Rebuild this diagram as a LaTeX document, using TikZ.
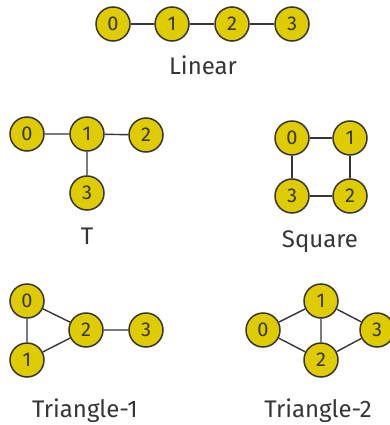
\documentclass[tikz,border=0pt]{standalone}
\usepackage{fontspec}
\setmainfont{Fira Sans}
\definecolor{nodefill}{HTML}{DFCC00}
\definecolor{ink}{HTML}{353535}
\begin{document}
\begin{tikzpicture}[x=1pt,y=-1pt,
  vert/.style={circle,draw=ink,fill=nodefill,line width=1.5pt,minimum size=34pt,inner sep=0pt,font=\fontsize{20}{20}\selectfont,text=ink},
  edge/.style={draw=ink,line width=1.4pt},
  lbl/.style={font=\fontsize{24}{24}\selectfont,text=ink}]
\useasboundingbox (0,0) rectangle (389,425);
% Linear
\node[vert] (l0) at (113,24) {0};
\node[vert] (l1) at (172,24) {1};
\node[vert] (l2) at (232,24) {2};
\node[vert] (l3) at (292,24) {3};
\draw[edge] (l0) -- (l1) (l1) -- (l2) (l2) -- (l3);
\node[lbl] (llbl) at (203,65) {Linear};
% T
\node[vert] (t0) at (27,134) {0};
\node[vert] (t1) at (87,134) {1};
\node[vert] (t2) at (146,135) {2};
\node[vert] (t3) at (87,193) {3};
\draw[edge] (t0) -- (t1) (t1) -- (t2) (t1) -- (t3);
\node[lbl] (tlbl) at (87,236) {T};
% Square
\node[vert] (s0) at (292,138) {0};
\node[vert] (s1) at (350,138) {1};
\node[vert] (s2) at (350,196) {2};
\node[vert] (s3) at (292,196) {3};
\draw[edge] (s0) -- (s1) (s1) -- (s2) (s2) -- (s3) (s3) -- (s0);
\node[lbl] (slbl) at (320,242) {Square};
% Triangle-1
\node[vert] (a0) at (27,301) {0};
\node[vert] (a1) at (27,360) {1};
\node[vert] (a2) at (86,330) {2};
\node[vert] (a3) at (146,330) {3};
\draw[edge] (a0) -- (a1) (a0) -- (a2) (a1) -- (a2) (a2) -- (a3);
\node[lbl] (albl) at (85,411) {Triangle-1};
% Triangle-2
\node[vert] (b0) at (263,330) {0};
\node[vert] (b1) at (321,301) {1};
\node[vert] (b2) at (321,360) {2};
\node[vert] (b3) at (377,330) {3};
\draw[edge] (b0) -- (b1) (b0) -- (b2) (b1) -- (b2) (b1) -- (b3) (b2) -- (b3);
\node[lbl] (blbl) at (318,411) {Triangle-2};
\end{tikzpicture}
\end{document}
